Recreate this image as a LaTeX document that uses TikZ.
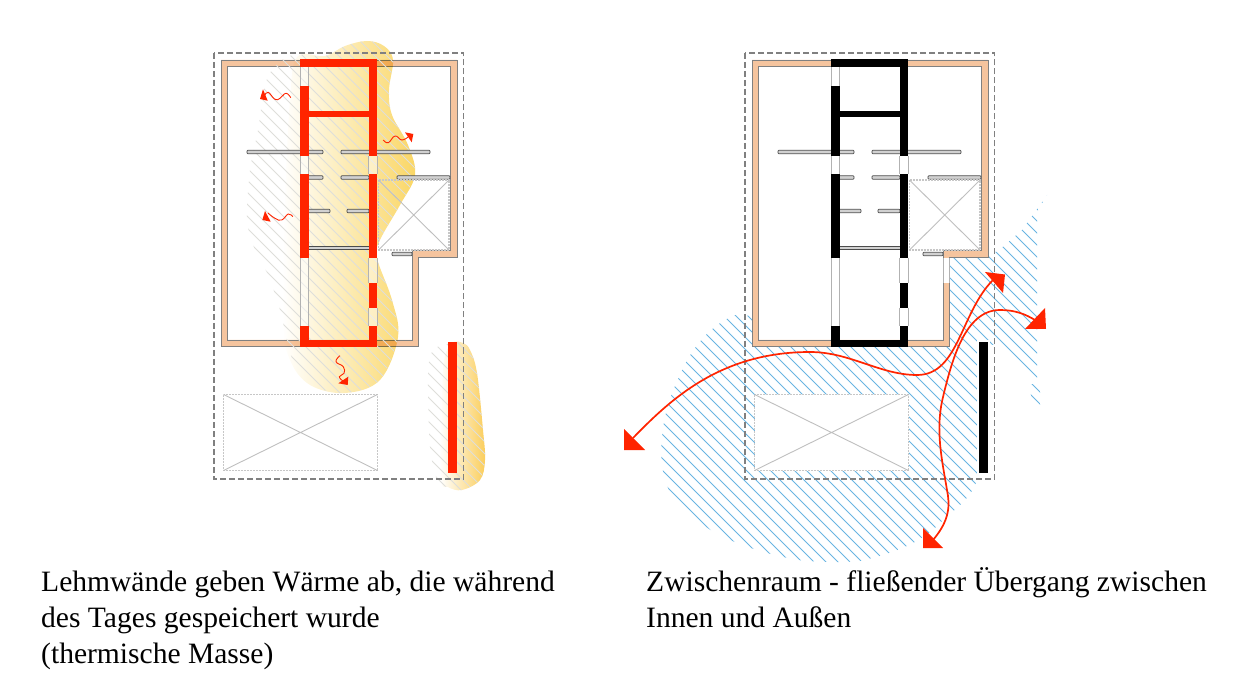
\documentclass[tikz,border=0pt]{standalone}
\usepackage{fontspec}
\setmainfont{Liberation Serif}
\definecolor{peach}{RGB}{245,196,158}
\definecolor{hotred}{RGB}{255,36,0}
\definecolor{sun}{RGB}{250,214,100}
\definecolor{hatchblue}{RGB}{105,180,226}
\definecolor{hatchgrey}{RGB}{222,222,218}
\tikzset{
  wallbody/.style={fill=peach,draw=black!50,line width=.8pt,even odd rule},
  sitebound/.style={draw=black!50,line width=1.2pt,dash pattern=on 6pt off 3pt},
  voidbox/.style={draw=black!22,line width=1.1pt,dash pattern=on 2pt off 1pt},
  voidcross/.style={draw=black!25,line width=.9pt},
  shelf/.style={fill=black!18,draw=black!70,line width=.7pt,rounded corners=.8pt},
  winline/.style={draw=black!30,line width=.8pt},
  flow/.style={draw=hotred,line width=1.7pt},
  wiggle/.style={draw=hotred,line width=.9pt},
  tip/.style={fill=hotred,draw=none},
  hatchg/.style={draw=hatchgrey,line width=1pt},
  hatchb/.style={draw=hatchblue,line width=.85pt},
  caption/.style={anchor=base west,inner sep=0pt,font=\fontsize{29.55}{36}\selectfont}
}
\newcommand\wallpath{(221,60) -- (457,60) -- (457,257) -- (418,257) -- (418,346) -- (221,346) -- cycle
  (227,66) -- (450,66) -- (450,250) -- (412,250) -- (412,340) -- (227,340) -- cycle}
\newcommand\outerpath{(221,60) -- (457,60) -- (457,257) -- (418,257) -- (418,346) -- (221,346) -- cycle}
\newcommand\planinner[2]{%
  % windows
  \foreach \xa/\ya/\yb in {300/67/86,300/156/174,300/258/326,368.5/156/174,368.5/258/283,368.5/308/326}{
    \fill[white,opacity=#2] (\xa,\ya) rectangle (\xa+8.5,\yb);
    \draw[winline] (\xa,\ya) -- (\xa,\yb) (\xa+8.5,\ya) -- (\xa+8.5,\yb);
  }
  % shelves
  \foreach \xa/\xb/\yy in {247/323/152,341/430/152,308/323/177.5,341/369/177.5,397/450/177.5,308/330/211,347/369/211,392/412/254}{
    \filldraw[shelf] (\xa,\yy-1.7) rectangle (\xb,\yy+1.7);
  }
  \filldraw[shelf,rounded corners=0pt] (308,246.3) rectangle (369,249.7);
  % voids
  \draw[voidbox] (378.5,180) rectangle (449,250);
  \draw[voidcross] (378.5,180) -- (449,250) (378.5,250) -- (449,180);
  \draw[voidbox] (223.5,394.5) rectangle (377.5,470.5);
  \draw[voidcross] (223.5,394.5) -- (377.5,470.5) (223.5,470.5) -- (377.5,394.5);
  % solid earth walls
  \fill[#1] (300,59.5) rectangle (377,67.5);
  \fill[#1] (300,111) rectangle (377,117);
  \fill[#1] (300,340) rectangle (377,347);
  \foreach \xa/\ya/\yb in {300/86/156,300/174/258,300/326/347,368.5/60/156,368.5/174/258,368.5/283/308,368.5/326/347}{
    \fill[#1] (\xa,\ya) rectangle (\xa+8.5,\yb);
  }
  \fill[#1] (448,342.5) rectangle (457,472.5);
  \draw[sitebound] (214,53) rectangle (463.5,479);
}
\begin{document}
\begin{tikzpicture}[x=1pt,y=-1pt]
\useasboundingbox (0,0) rectangle (1247,684);
% ===== left plan =====
\draw[wallbody] \wallpath;
\begin{scope}[blend mode=multiply]
\shade[left color=white,right color=sun,shading angle=90]
  plot[smooth cycle,tension=.6] coordinates {(297,57)(325,56)(345,46)(367,41)(384,46)(393,60)(389,90)(392,115)(408,145)(415,175)(400,205)(380,240)(377,258)(392,300)(398,337)(380,380)(345,393)(310,385)(290,360)(283,320)(285,200)(290,100)};
\shade[left color=white,right color=sun!90!orange]
  plot[smooth cycle,tension=.6] coordinates {(452,343)(463,343)(470,350)(477,373)(483,430)(485,460)(480,480)(462,490)(448,487)(441,478)(442,400)(444,360)};
\end{scope}
\begin{scope}
  \clip plot[smooth cycle,tension=.5] coordinates {(293,55)(325,56)(345,46)(367,41)(384,46)(393,60)(389,90)(392,115)(408,145)(415,175)(400,205)(380,240)(377,258)(392,300)(398,337)(380,380)(345,393)(310,385)(295,365)(288,345)(280,310)(268,275)(255,250)(247,220)(250,170)(258,130)(265,85)(275,66)};
  \foreach \k in {-101,-89,...,347}{ \draw[hatchg] (\k,0) -- ++(500,500); }
\end{scope}
\begin{scope}
  \clip plot[smooth cycle,tension=.5] coordinates {(452,343)(463,343)(470,350)(477,373)(483,430)(485,460)(480,480)(462,490)(448,487)(438,482)(430,447)(428,375)(433,350)};
  \foreach \k in {-101,-89,...,347}{ \draw[hatchg] (\k,0) -- ++(500,500); }
\end{scope}
\planinner{hotred}{.45}
% heat arrows
\draw[wiggle] plot[smooth,tension=.8] coordinates {(290.7,97.7)(286,93.3)(280,98.3)(275,99.3)(268.3,92.3)(265,95)};
\fill[tip] (263,89.3) -- (260,99) -- (267.7,100.7) -- cycle;
\draw[wiggle] plot[smooth,tension=.8] coordinates {(383.3,140)(388.3,142.7)(395,136)(401.7,140)(408,137)};
\fill[tip] (405,132.3) -- (413.3,134) -- (411.7,142.3) -- cycle;
\draw[wiggle] plot[smooth,tension=.8] coordinates {(292.7,216.7)(288.3,214)(281.7,220)(275,218.3)(268,213)};
\fill[tip] (265,211) -- (262.3,220) -- (270.7,221.7) -- cycle;
\draw[wiggle] plot[smooth,tension=.8] coordinates {(340,355.7)(336,361.7)(343.3,366.7)(344,373.3)(339.3,376.7)(343,381)};
\fill[tip] (348.3,376.7) -- (347.7,385) -- (338.3,383.3) -- cycle;
% ===== right plan =====
\begin{scope}
  \clip (1047,195) -- (1037,212) -- (1037,385) -- (1000,345) -- (988,345) -- (988,472) -- (979,472)
     .. controls (975,495) and (960,505) .. (943,520)
     .. controls (925,540) and (900,552) .. (860,561)
     .. controls (840,563) and (815,562) .. (798,560)
     .. controls (770,555) and (735,545) .. (709,529)
     .. controls (690,515) and (675,505) .. (668,488)
     .. controls (662,475) and (660,455) .. (662,437)
     .. controls (664,415) and (670,395) .. (680,375)
     .. controls (690,350) and (710,325) .. (735,315)
     -- (755,316) -- (755,300) -- (950,250) -- (997,252) -- (1022,230) -- cycle
     (1028,384) -- (1040,384) -- (1040,410) -- (1034,406) -- cycle;
  \foreach \k in {168,180,...,864}{ \draw[hatchb] (\k,0) -- ++(600,600); }
\end{scope}
\begin{scope}[xshift=531pt]
  \fill[white] \outerpath;
  \fill[white] (223.5,394.5) rectangle (377.5,470.5);
  \fill[white] (446,340) rectangle (459,475);
  \draw[wallbody] \wallpath;
  \fill[white] (412.5,257.8) rectangle (417.5,283);
  \draw[winline] (412,257.8) -- (412,283) (418,257.8) -- (418,283);
  \planinner{black}{1}
\end{scope}
% flow arrows
\draw[flow] (633,438) .. controls (670,400) and (720,352) .. (810,352) .. controls (850,352) and (880,375) .. (917,375) .. controls (960,375) and (960,310) .. (996,277);
\fill[tip] (985,272) -- (1005,274.5) -- (1003,293) -- cycle;
\fill[tip] (624,429) -- (624,450) -- (645,450) -- cycle;
\draw[flow] (933,540) .. controls (950,520) and (950,505) .. (947,490) .. controls (942,460) and (935,430) .. (943,397) .. controls (952,360) and (965,310) .. (1000,310) .. controls (1015,310) and (1025,314) .. (1035,320);
\fill[tip] (923,528) -- (923,548) -- (943,548) -- cycle;
\fill[tip] (1045,308) -- (1046,329) -- (1025,329) -- cycle;
% captions
\node[caption] (capA1) at (41,591.5) {Lehmwände geben Wärme ab, die während};
\node[caption] (capA2) at (41,627.5) {des Tages gespeichert wurde};
\node[caption] (capA3) at (41,663) {(thermische Masse)};
\node[caption] (capB1) at (646,591.5) {Zwischenraum - fließender Übergang zwischen};
\node[caption] (capB2) at (646,627.5) {Innen und Außen};
\end{tikzpicture}
\end{document}
